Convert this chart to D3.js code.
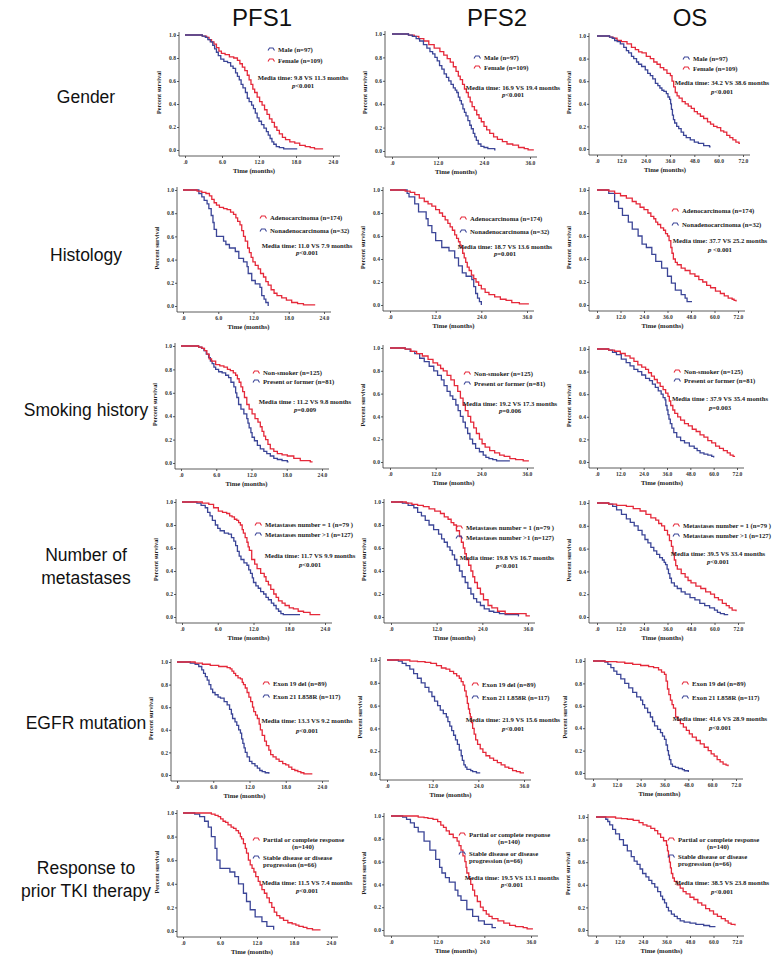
<!DOCTYPE html>
<html><head><meta charset="utf-8">
<script src="https://cdn.jsdelivr.net/npm/d3@7"></script>
<style>body{margin:0;background:#fff}svg{display:block}</style>
</head><body>
<svg id="c" width="776" height="959"></svg>
<script>
// ---------------- DATA ----------------
const colTitles = ["PFS1", "PFS2", "OS"];
const rowLabels = [["Gender"], ["Histology"], ["Smoking history"], ["Number of", "metastases"], ["EGFR mutation"], ["Response to", "prior TKI therapy"]];
const colMax = [24, 36, 72];
const xTicks1 = [0, 6, 12, 18, 24];
const xTicks2 = [0, 12, 24, 36];
const xTicks3 = [0, 12, 24, 36, 48, 60, 72];
const yTicks = [0, 0.2, 0.4, 0.6, 0.8, 1.0];

const legendRed = [["Female (n=109)"], ["Adenocarcinoma (n=174)"], ["Non-smoker  (n=125)"], ["Metastases  number = 1 (n=79 )"], ["Exon 19 del (n=89)"], ["Partial or complete response", "(n=140)"]];
const legendBlue = [["Male (n=97)"], ["Nonadenocarcinoma (n=32)"], ["Present or former  (n=81)"], ["Metastases  number >1 (n=127)"], ["Exon 21 L858R (n=117)"], ["Stable disease or disease", "progression  (n=66)"]];
const blueFirst = [true, false, false, false, false, false];

const medianTexts = [
  "Media time: 9.8 VS 11.3 months", "Media time: 16.9 VS 19.4  months", "Media time:  34.2 VS 38.6 months",
  "Media time: 11.0 VS 7.9 months", "Media time: 18.7 VS 13.6 months", "Media time: 37.7 VS 25.2 months",
  "Media time :  11.2 VS 9.8 months", "Media time: 19.2 VS 17.3 months", "Media time :  37.9 VS 35.4 months",
  "Media time: 11.7 VS 9.9 months", "Media time: 19.8 VS 16.7  months", "Media time:  39.5 VS 33.4 months",
  "Media time: 13.3 VS 9.2 months", "Media time:  21.9 VS 15.6 months", "Media time:  41.6 VS 28.9 months",
  "Media time: 11.5 VS 7.4 months", "Media time: 19.5 VS 13.1  months", "Media time: 38.5 VS 23.8  months"
];
const pTexts = [
  "<0.001", "<0.001", "<0.001",
  "<0.001", "=0.001", " <0.001",
  "=0.009", "=0.006", "=0.003",
  "<0.001", "<0.001", "<0.001",
  "<0.001", "<0.001", "<0.001",
  "<0.001", "<0.001", "<0.001"
];

// Survival curves [time (months), survival]
const genderPfs1Male = [[0,1],[2.8,0.99],[3.3,0.98],[3.7,0.96],[4.1,0.94],[4.5,0.91],[4.8,0.88],[5.1,0.85],[5.4,0.82],[5.8,0.79],[6.3,0.77],[6.9,0.76],[7.4,0.73],[7.8,0.71],[8.2,0.67],[8.5,0.64],[8.8,0.61],[9.1,0.57],[9.4,0.54],[9.8,0.5],[10.1,0.45],[10.4,0.42],[10.8,0.39],[11.1,0.36],[11.4,0.32],[11.7,0.28],[12,0.25],[12.4,0.22],[12.8,0.19],[13.2,0.16],[13.5,0.13],[13.8,0.1],[14.1,0.07],[14.4,0.05],[14.8,0.03],[15.3,0.02],[16,0.01],[18.2,0.01]];
const genderPfs1Female = [[0,1],[2.8,0.99],[3.5,0.98],[3.9,0.96],[4.3,0.94],[4.7,0.92],[5.1,0.89],[5.5,0.86],[5.9,0.84],[6.5,0.83],[7.2,0.81],[7.9,0.8],[8.5,0.78],[8.9,0.75],[9.3,0.72],[9.7,0.69],[10.1,0.65],[10.4,0.61],[10.7,0.57],[11,0.53],[11.3,0.5],[11.7,0.46],[12.1,0.42],[12.5,0.39],[12.9,0.35],[13.3,0.31],[13.7,0.27],[14.1,0.24],[14.5,0.2],[14.9,0.17],[15.3,0.14],[15.8,0.11],[16.3,0.09],[17,0.07],[17.8,0.06],[18.6,0.04],[19.5,0.03],[20.3,0.02],[21,0.01],[22.4,0.01]];
const genderPfs2Male = [[0,1],[4.3,0.99],[5.3,0.98],[6.3,0.96],[7.2,0.94],[8.2,0.91],[9.1,0.88],[9.9,0.85],[10.6,0.83],[11.2,0.8],[11.8,0.77],[12.4,0.73],[13,0.7],[13.6,0.66],[14.2,0.63],[14.8,0.6],[15.4,0.57],[16,0.54],[16.5,0.52],[16.9,0.5],[17.3,0.46],[17.7,0.43],[18.1,0.4],[18.5,0.36],[18.9,0.33],[19.3,0.3],[19.8,0.26],[20.3,0.22],[20.7,0.19],[21.2,0.15],[21.6,0.12],[22,0.09],[22.5,0.06],[23.2,0.04],[24,0.03],[25,0.02],[26.8,0.01],[27,0.01]];
const genderPfs2Female = [[0,1],[4.3,0.99],[5.8,0.98],[7,0.96],[8.3,0.94],[9.6,0.91],[11,0.88],[12.5,0.85],[13.5,0.82],[14.4,0.79],[15.2,0.76],[16,0.72],[16.7,0.68],[17.3,0.64],[17.8,0.61],[18.4,0.57],[18.9,0.53],[19.4,0.5],[19.9,0.46],[20.4,0.42],[20.9,0.38],[21.5,0.35],[22.1,0.31],[22.7,0.28],[23.3,0.25],[24,0.21],[24.7,0.18],[25.5,0.15],[26.5,0.12],[27.5,0.1],[28.8,0.08],[30,0.06],[31.5,0.05],[33,0.03],[34.5,0.02],[35.5,0.01],[37,0.01]];
const genderOsMale = [[0,1],[6.2,0.99],[7.5,0.98],[8.7,0.96],[10,0.95],[11.5,0.93],[13.2,0.9],[14.5,0.87],[15.6,0.85],[17,0.82],[18.1,0.8],[19.5,0.77],[20.5,0.75],[22,0.73],[23.8,0.7],[25,0.67],[26.3,0.65],[27.5,0.62],[28.8,0.58],[30,0.56],[31,0.54],[32,0.52],[33,0.51],[34.2,0.49],[35,0.46],[35.8,0.44],[36.3,0.4],[36.7,0.35],[37.2,0.3],[37.7,0.26],[38.3,0.23],[39.3,0.2],[40.3,0.18],[41.5,0.15],[42.7,0.12],[44,0.1],[46,0.08],[48,0.06],[50,0.05],[52.6,0.03],[55.5,0.02],[56,0.02]];
const genderOsFemale = [[0,1],[6.2,0.99],[8,0.98],[9.9,0.96],[12,0.95],[14.8,0.93],[17,0.9],[18.9,0.88],[20.5,0.86],[22.2,0.85],[24.3,0.82],[26.3,0.8],[28,0.77],[29.6,0.75],[31.2,0.72],[32.9,0.7],[34.5,0.67],[36.2,0.65],[37,0.6],[37.8,0.55],[38.6,0.5],[39.5,0.47],[40.5,0.45],[42,0.42],[43.5,0.4],[45,0.38],[46.5,0.36],[48,0.33],[49.5,0.31],[51,0.29],[52.6,0.27],[54.5,0.24],[56,0.22],[57.5,0.2],[59.2,0.19],[61,0.16],[62.5,0.15],[64,0.12],[65.5,0.1],[67,0.08],[68.5,0.06],[70,0.05],[70.5,0.05]];

const histPfs1Adeno = [[0,1],[2.4,0.99],[3.2,0.98],[3.9,0.97],[4.5,0.95],[4.9,0.92],[5.3,0.89],[5.7,0.87],[6.2,0.85],[6.9,0.84],[7.5,0.83],[8.1,0.81],[8.6,0.79],[9,0.76],[9.3,0.73],[9.7,0.7],[10,0.65],[10.3,0.6],[10.6,0.56],[11,0.5],[11.3,0.46],[11.6,0.42],[11.9,0.38],[12.3,0.35],[12.8,0.32],[13.2,0.28],[13.7,0.25],[14.1,0.21],[14.5,0.18],[15,0.14],[15.5,0.11],[16,0.09],[16.8,0.07],[17.6,0.05],[18.5,0.03],[19.5,0.02],[20.5,0.01],[22.5,0.01]];
const histPfs1Nonadeno = [[0,1],[2.7,0.97],[3.2,0.94],[3.6,0.91],[4.1,0.88],[4.4,0.84],[4.8,0.78],[5.1,0.72],[5.3,0.66],[5.7,0.6],[6.9,0.56],[7.3,0.53],[7.9,0.5],[8.9,0.47],[9.5,0.41],[10.3,0.38],[10.9,0.34],[11.1,0.28],[11.7,0.22],[12.3,0.19],[13.1,0.16],[13.4,0.09],[13.8,0.06],[14.1,0.03],[14.5,0.0]];
const histPfs2Adeno = [[0,1],[4,0.99],[5.3,0.98],[6.5,0.96],[7.7,0.93],[9,0.9],[10,0.88],[11,0.86],[12,0.83],[13,0.8],[13.8,0.77],[14.5,0.74],[15.2,0.71],[15.8,0.68],[16.4,0.65],[17,0.61],[17.5,0.58],[18,0.55],[18.4,0.52],[18.7,0.5],[19.1,0.45],[19.5,0.41],[19.9,0.37],[20.3,0.33],[20.8,0.3],[21.4,0.26],[22,0.23],[22.6,0.2],[23.3,0.17],[24,0.14],[25,0.11],[26,0.09],[27.5,0.07],[29,0.05],[30.5,0.04],[32,0.02],[34,0.01],[36.5,0.01]];
const histPfs2Nonadeno = [[0,1],[4.5,0.97],[5,0.94],[6.5,0.88],[7.5,0.81],[9.5,0.75],[10,0.69],[11,0.63],[12,0.56],[13.6,0.5],[15.5,0.47],[17,0.41],[18,0.34],[19,0.28],[20,0.25],[21.5,0.22],[22,0.16],[22.5,0.1],[23,0.06],[23.5,0.03],[24,0.0]];
const histOsAdeno = [[0,1],[6,0.99],[9,0.97],[12,0.95],[15,0.93],[18,0.9],[20,0.88],[22,0.85],[24,0.83],[26,0.8],[27.5,0.77],[29,0.75],[30,0.72],[31,0.7],[32.5,0.67],[34,0.65],[35,0.62],[36,0.6],[36.8,0.56],[37.7,0.5],[38.3,0.45],[39,0.4],[40,0.37],[41,0.35],[43,0.32],[45,0.3],[47.5,0.27],[50,0.25],[52,0.22],[54,0.2],[56,0.17],[58,0.15],[60.5,0.12],[63,0.1],[65,0.08],[67,0.06],[69,0.05],[70,0.04],[71,0.03]];
const histOsNonadeno = [[0,1],[6,0.97],[9,0.9],[11,0.84],[13,0.78],[16,0.72],[18,0.66],[21,0.6],[23,0.53],[25.2,0.5],[28,0.44],[30,0.38],[33,0.32],[36,0.25],[38,0.19],[40,0.13],[43,0.09],[45,0.06],[46,0.03],[48.5,0.03]];

const smokePfs1Non = [[0,1],[3,0.99],[3.6,0.98],[4,0.96],[4.4,0.93],[4.8,0.89],[5.2,0.87],[5.9,0.84],[6.6,0.83],[7.3,0.82],[7.9,0.8],[8.4,0.79],[8.9,0.77],[9.3,0.75],[9.6,0.72],[9.9,0.69],[10.2,0.65],[10.5,0.61],[10.8,0.56],[11.2,0.5],[11.6,0.46],[12.1,0.42],[12.6,0.38],[13.1,0.35],[13.5,0.31],[13.8,0.27],[14.1,0.23],[14.4,0.2],[14.8,0.16],[15.2,0.12],[15.8,0.1],[16.4,0.08],[17.2,0.07],[18.1,0.06],[19.2,0.04],[20.3,0.02],[22,0.01],[22.4,0.01]];
const smokePfs1Present = [[0,1],[3,0.99],[3.5,0.98],[3.9,0.96],[4.3,0.93],[4.7,0.9],[5,0.87],[5.3,0.85],[5.6,0.82],[5.9,0.8],[6.4,0.78],[7,0.77],[7.6,0.75],[8.1,0.73],[8.5,0.69],[9,0.65],[9.3,0.6],[9.5,0.56],[9.8,0.5],[10.2,0.46],[10.7,0.42],[11.2,0.38],[11.4,0.34],[11.6,0.3],[11.9,0.26],[12.1,0.22],[12.5,0.19],[13,0.15],[13.5,0.12],[14.1,0.1],[14.6,0.08],[15.2,0.06],[15.8,0.04],[16.4,0.03],[17.2,0.02],[18.1,0.01],[18.3,0.01]];
const smokePfs2Non = [[0,1],[4,0.99],[5.5,0.97],[7,0.95],[8.5,0.93],[10,0.9],[11.3,0.87],[12.5,0.85],[13.3,0.82],[14,0.8],[15,0.76],[16,0.72],[16.9,0.67],[17.8,0.62],[18.5,0.56],[19.2,0.5],[19.8,0.45],[20.5,0.4],[21.2,0.35],[22,0.3],[22.7,0.25],[23.5,0.2],[24.2,0.16],[25,0.13],[26.2,0.1],[27.5,0.08],[28.8,0.06],[30,0.05],[31.5,0.03],[33,0.02],[35,0.01],[36.5,0.01]];
const smokePfs2Present = [[0,1],[4,0.99],[5.3,0.97],[6.5,0.95],[7.8,0.91],[9,0.88],[10.3,0.84],[11.5,0.8],[12.5,0.76],[13.5,0.72],[14.2,0.67],[15,0.62],[15.8,0.58],[16.5,0.55],[17.3,0.5],[17.9,0.45],[18.5,0.4],[19.2,0.35],[19.8,0.3],[20.4,0.25],[21,0.2],[21.7,0.16],[22.5,0.12],[23.5,0.09],[24.5,0.06],[25.2,0.04],[26,0.03],[27,0.02],[28,0.01],[31.5,0.01]];
const smokeOsNon = [[0,1],[6,0.99],[9,0.98],[12,0.96],[14.5,0.94],[17,0.92],[19,0.89],[21,0.86],[23,0.84],[25,0.82],[26.5,0.79],[28,0.76],[29.5,0.73],[31,0.7],[32.5,0.67],[34,0.64],[35.3,0.61],[36.5,0.58],[37.2,0.54],[37.9,0.5],[39,0.46],[40,0.43],[41.5,0.4],[43,0.37],[45,0.34],[47,0.32],[49,0.29],[51,0.27],[53,0.24],[55,0.22],[57,0.19],[59,0.17],[61,0.14],[63,0.12],[65,0.1],[67,0.08],[68.5,0.06],[70,0.05],[71,0.05]];
const smokeOsPresent = [[0,1],[6,0.99],[8,0.97],[10,0.95],[12.5,0.91],[15,0.88],[17,0.85],[19,0.82],[21,0.8],[23,0.77],[25,0.74],[27,0.72],[28.5,0.69],[30,0.66],[31.5,0.63],[33,0.6],[34,0.57],[35,0.55],[35.4,0.5],[36,0.46],[36.5,0.42],[37,0.38],[37.7,0.34],[38.5,0.3],[39.5,0.26],[41,0.22],[43,0.19],[45,0.17],[47.5,0.14],[50,0.12],[51.5,0.1],[53,0.08],[55,0.07],[57,0.06],[59,0.05],[60,0.04]];

const metPfs1One = [[0,1],[3.4,0.99],[4.5,0.98],[5.3,0.95],[6.1,0.92],[6.8,0.91],[7.5,0.9],[8,0.88],[8.4,0.87],[8.8,0.85],[9.2,0.84],[9.5,0.82],[9.8,0.8],[10.1,0.76],[10.3,0.73],[10.6,0.69],[10.9,0.65],[11.1,0.61],[11.3,0.58],[11.7,0.5],[12.2,0.46],[12.6,0.42],[13.2,0.38],[13.8,0.35],[14.1,0.31],[14.5,0.28],[14.9,0.24],[15.4,0.2],[15.8,0.17],[16.2,0.14],[16.8,0.12],[17.3,0.1],[18,0.08],[18.7,0.07],[19.5,0.05],[20.4,0.04],[21.5,0.02],[23.2,0.02]];
const metPfs1More = [[0,1],[2.5,0.99],[3.2,0.97],[3.9,0.95],[4.3,0.91],[4.7,0.88],[5.1,0.84],[5.6,0.8],[6,0.77],[6.4,0.75],[7.1,0.73],[7.8,0.72],[8.3,0.69],[8.7,0.66],[9,0.62],[9.3,0.57],[9.6,0.53],[9.9,0.5],[10.4,0.47],[10.9,0.45],[11.2,0.41],[11.5,0.38],[11.8,0.34],[12,0.3],[12.4,0.27],[12.8,0.25],[13.2,0.22],[13.7,0.2],[14.1,0.17],[14.5,0.15],[15,0.12],[15.4,0.1],[15.8,0.07],[16.2,0.05],[16.6,0.03],[17,0.02],[19.8,0.02]];
const metPfs2One = [[0,1],[4,0.99],[5.5,0.98],[7,0.97],[8.5,0.96],[10,0.94],[11.5,0.92],[13,0.9],[14,0.87],[15,0.85],[15.8,0.82],[16.5,0.8],[17.2,0.75],[18,0.7],[18.5,0.65],[19,0.6],[19.4,0.55],[19.8,0.5],[20.4,0.45],[21,0.4],[21.5,0.35],[22,0.3],[22.7,0.25],[23.5,0.2],[24.3,0.15],[25.5,0.1],[26.5,0.08],[28,0.05],[30,0.03],[35,0.03],[35.5,0.01],[36.5,0.01]];
const metPfs2More = [[0,1],[3,0.99],[4.5,0.97],[6,0.95],[7,0.91],[8,0.88],[9,0.84],[10,0.8],[11.2,0.76],[12.5,0.72],[13.3,0.68],[14,0.65],[14.8,0.61],[15.5,0.58],[16.1,0.54],[16.7,0.5],[17.3,0.45],[18,0.4],[18.7,0.35],[19.5,0.3],[20.2,0.25],[21,0.2],[21.7,0.16],[22.5,0.13],[23.5,0.1],[24.5,0.07],[25.8,0.05],[27,0.04],[28.5,0.03],[30,0.02],[33.5,0.01],[33.6,0.01]];
const metOsOne = [[0,1],[6,0.99],[10,0.98],[15,0.97],[18.5,0.95],[22,0.93],[25,0.9],[27.5,0.87],[30,0.85],[31.5,0.82],[33,0.8],[34.5,0.76],[36,0.72],[37,0.67],[38,0.62],[38.8,0.56],[39.5,0.5],[40.2,0.45],[41,0.42],[43,0.38],[45,0.35],[46.5,0.32],[48,0.3],[50.5,0.27],[53,0.25],[55.5,0.22],[58,0.2],[60,0.17],[62,0.15],[64,0.12],[66,0.1],[67.5,0.08],[69,0.06],[71,0.05]];
const metOsMore = [[0,1],[6,0.99],[8,0.97],[10,0.94],[12.5,0.9],[15,0.86],[17,0.83],[19,0.8],[21,0.76],[23,0.72],[24.5,0.68],[26,0.65],[27.5,0.61],[29,0.58],[30.5,0.55],[32,0.52],[33.4,0.5],[34.3,0.48],[35,0.46],[35.8,0.42],[36.5,0.38],[37.2,0.34],[38,0.3],[39.5,0.27],[41,0.25],[43,0.22],[45,0.2],[47.5,0.17],[50,0.15],[52.5,0.12],[55,0.1],[57.5,0.08],[60,0.06],[61.5,0.04],[63,0.03],[65,0.02],[67,0.02]];

const egfrPfs1Del = [[0,1],[3,0.99],[4.2,0.98],[5.5,0.97],[6.9,0.96],[8.3,0.95],[8.8,0.94],[9.1,0.92],[9.4,0.9],[9.7,0.88],[10.1,0.86],[10.5,0.85],[10.8,0.82],[11,0.8],[11.3,0.77],[11.6,0.73],[11.9,0.69],[12.2,0.65],[12.5,0.6],[12.7,0.56],[13,0.53],[13.3,0.5],[13.6,0.45],[13.8,0.4],[14.1,0.35],[14.5,0.3],[14.8,0.26],[15.2,0.22],[15.5,0.18],[15.9,0.16],[16.4,0.14],[16.9,0.12],[17.5,0.1],[18,0.09],[18.5,0.07],[19,0.05],[19.5,0.04],[20,0.03],[20.5,0.02],[21,0.01],[22.4,0.01]];
const egfrPfs1L858r = [[0,1],[2.2,0.99],[3,0.98],[3.6,0.96],[4.1,0.93],[4.4,0.9],[4.7,0.87],[5,0.84],[5.3,0.8],[5.6,0.76],[5.9,0.73],[6.3,0.71],[6.8,0.69],[7.2,0.68],[7.8,0.65],[8.3,0.62],[8.7,0.58],[9,0.54],[9.2,0.5],[9.6,0.47],[9.9,0.44],[10.2,0.4],[10.5,0.37],[10.7,0.32],[10.9,0.28],[11.1,0.24],[11.3,0.2],[11.6,0.16],[12,0.12],[12.4,0.1],[12.9,0.08],[13.3,0.06],[13.7,0.04],[14.1,0.03],[14.6,0.02],[15.2,0.01]];
const egfrPfs2Del = [[0,1],[6,0.99],[8,0.985],[10,0.98],[11.5,0.97],[13,0.95],[14.3,0.93],[15.5,0.92],[16.5,0.9],[17.5,0.88],[18.3,0.86],[19,0.84],[19.5,0.81],[20,0.78],[20.4,0.73],[20.8,0.68],[21.1,0.62],[21.4,0.57],[21.7,0.53],[21.9,0.5],[22.2,0.45],[22.5,0.4],[22.9,0.35],[23.3,0.3],[23.8,0.26],[24.5,0.22],[25.2,0.19],[26,0.16],[27,0.14],[28,0.12],[29,0.1],[30,0.08],[31,0.06],[32,0.05],[33,0.03],[34,0.02],[35,0.01],[36,0.01]];
const egfrPfs2L858r = [[0,1],[3,0.99],[4,0.97],[5,0.95],[6,0.92],[7,0.88],[8,0.84],[9,0.8],[10,0.76],[11,0.72],[11.8,0.68],[12.5,0.64],[13.3,0.6],[14,0.56],[14.8,0.53],[15.6,0.5],[16,0.46],[16.5,0.42],[17,0.38],[17.5,0.34],[18,0.3],[18.5,0.26],[19,0.21],[19.5,0.16],[19.8,0.12],[20.2,0.08],[20.6,0.06],[21,0.04],[22,0.03],[22.5,0.02],[23.5,0.01],[24.5,0.01]];
const egfrOsDel = [[0,1],[6,0.995],[12,0.99],[16,0.98],[20,0.97],[24,0.96],[28,0.95],[30.5,0.94],[33,0.92],[34.5,0.9],[36,0.88],[36.8,0.82],[37.5,0.75],[38.2,0.7],[39,0.65],[39.8,0.61],[40.5,0.58],[41.6,0.5],[42.8,0.47],[44,0.44],[45.5,0.41],[47,0.38],[48.5,0.35],[50,0.32],[52,0.29],[54,0.26],[56,0.23],[58,0.2],[59.5,0.17],[61,0.15],[62.5,0.12],[64,0.1],[65.5,0.08],[67,0.07],[68,0.06]];
const egfrOsL858r = [[0,1],[6,0.99],[7.5,0.97],[9,0.94],[10.5,0.91],[12,0.88],[14,0.84],[16,0.8],[18,0.76],[20,0.72],[22,0.68],[24,0.65],[25,0.61],[26,0.58],[27.5,0.54],[28.9,0.5],[30,0.46],[31,0.42],[32.5,0.39],[34,0.36],[35,0.33],[36,0.3],[36.8,0.25],[37.5,0.2],[38,0.16],[38.5,0.12],[39.2,0.08],[40,0.06],[41.5,0.05],[43,0.04],[45,0.03],[46,0.02],[48,0.01]];

const respPfs1Pr = [[0,1],[4.6,0.99],[5.2,0.98],[5.7,0.97],[6.1,0.95],[6.5,0.93],[6.9,0.92],[7.3,0.9],[7.8,0.88],[8.2,0.87],[8.6,0.85],[9,0.83],[9.3,0.8],[9.5,0.78],[9.8,0.74],[10.1,0.7],[10.3,0.66],[10.6,0.6],[10.9,0.56],[11.2,0.53],[11.5,0.5],[11.8,0.46],[12.2,0.42],[12.5,0.39],[12.8,0.35],[13.2,0.32],[13.6,0.28],[14,0.24],[14.4,0.2],[14.8,0.16],[15.2,0.13],[15.7,0.11],[16.3,0.09],[17,0.07],[17.7,0.06],[18.3,0.05],[18.8,0.04],[19.5,0.03],[20.1,0.02],[21,0.01],[22.3,0.01]];
const respPfs1Sd = [[0,1],[1.9,0.99],[2.7,0.97],[3.5,0.93],[4.1,0.88],[4.6,0.8],[5.2,0.7],[5.5,0.6],[6,0.53],[7.6,0.5],[8.4,0.46],[9,0.4],[9.8,0.32],[10.3,0.25],[10.9,0.18],[11.7,0.12],[12.8,0.08],[13.6,0.04],[14.7,0.01]];
const respPfs2Pr = [[0,1],[7,0.99],[8.5,0.985],[9.5,0.98],[10.8,0.97],[12,0.95],[12.8,0.92],[13.5,0.9],[14.2,0.87],[15,0.84],[16,0.81],[17,0.78],[17.5,0.74],[18,0.7],[18.5,0.65],[19,0.6],[19.3,0.55],[19.5,0.5],[20,0.45],[20.5,0.4],[21,0.35],[21.5,0.3],[22.2,0.25],[23,0.2],[23.7,0.17],[24.5,0.14],[25.2,0.12],[26,0.1],[27.5,0.08],[29,0.06],[30.5,0.04],[32,0.03],[34,0.02],[35,0.01],[36.5,0.01]];
const respPfs2Sd = [[0,1],[3,0.99],[4,0.97],[5,0.94],[6,0.9],[7,0.86],[8.5,0.78],[10,0.7],[11.5,0.62],[12.5,0.55],[13.1,0.5],[14,0.46],[15,0.42],[16.5,0.35],[17.2,0.3],[18,0.26],[19.5,0.18],[21,0.12],[22.5,0.08],[24,0.05],[26,0.02],[27,0.02]];
const respOsPr = [[0,1],[10,0.99],[13,0.985],[16,0.98],[19,0.97],[22,0.95],[24,0.93],[26,0.92],[28,0.9],[30,0.88],[31.5,0.85],[33,0.82],[34.5,0.79],[36,0.75],[36.5,0.7],[37,0.65],[37.5,0.6],[38,0.55],[38.5,0.5],[39.2,0.46],[40,0.43],[41.5,0.4],[43,0.37],[44.5,0.34],[46,0.32],[48,0.29],[50,0.27],[52,0.24],[54,0.22],[56,0.19],[58,0.17],[60,0.14],[62,0.12],[64,0.1],[66,0.08],[67.5,0.06],[69,0.05],[71,0.04]];
const respOsSd = [[0,1],[5,0.98],[6,0.96],[7,0.93],[8.5,0.89],[10,0.85],[12,0.8],[14,0.75],[16,0.7],[18,0.65],[19.5,0.61],[21,0.58],[22.5,0.54],[23.8,0.5],[25.5,0.47],[27,0.44],[28.5,0.41],[30,0.38],[31.5,0.34],[33,0.3],[34,0.27],[35,0.24],[36,0.2],[37,0.17],[38.5,0.14],[40,0.12],[41.5,0.1],[43,0.08],[45,0.07],[48,0.06],[51,0.05],[55,0.04],[58,0.03],[61,0.03]];

// curves per panel (row-major): [red, blue]
const panelCurves = [
  [genderPfs1Female, genderPfs1Male], [genderPfs2Female, genderPfs2Male], [genderOsFemale, genderOsMale],
  [histPfs1Adeno, histPfs1Nonadeno], [histPfs2Adeno, histPfs2Nonadeno], [histOsAdeno, histOsNonadeno],
  [smokePfs1Non, smokePfs1Present], [smokePfs2Non, smokePfs2Present], [smokeOsNon, smokeOsPresent],
  [metPfs1One, metPfs1More], [metPfs2One, metPfs2More], [metOsOne, metOsMore],
  [egfrPfs1Del, egfrPfs1L858r], [egfrPfs2Del, egfrPfs2L858r], [egfrOsDel, egfrOsL858r],
  [respPfs1Pr, respPfs1Sd], [respPfs2Pr, respPfs2Sd], [respOsPr, respOsSd]
];

// ---------------- LAYOUT ----------------
// [x at t=0, x at t=max, y at 1.0, y at 0.0]
const frames = [
  [185,333,35,150],[392,530,34,151],[597,743,36,149],
  [183,324,190,306],[390,527,190,305],[597,738,190,305],
  [181,322,346,463],[390,527,348,462],[597,737,349,462],
  [182,325,502,617],[391,528,502,617],[597,738,503,617],
  [177,322,662,775],[387,524,660,774],[593,736,661,773],
  [183,331,813,931],[391,531,816,930],[596,737,817,930]
];
// [symbol x, line1 y, line2 y, median centre x, median y, p y]
const legendPos = [
  [268,49,60,303,77,85],[474,57,67,513,87,94],[683,58,68,722,82,91],
  [260,217,230,307,245,252],[460,218,231,505,246,253],[672,210,224,720,240,249],
  [253,372,381,305,401,409],[464,373,383,510,403,410],[674,371,380,720,398,407],
  [255,524,534,310,555,564],[456,527,537,507,557,565],[673,525,535,718,553,561],
  [263,683,696,307,720,730],[472,684,697,513,719,728],[682,683,697,720,718,727],
  [253,839,857,307,882,890],[459,834,853,512,877,884],[668,839,856,722,882,891]
];
const colTitleX = [262, 497, 690];
const rowLabelY = [97, 255, 410, 566, 723, 879];
const RED = "#e5293a", BLUE = "#3b4597";
const SERIF = "'Liberation Serif','Times New Roman',serif";
const FS = 6.7;

const svg = d3.select("#c");
svg.append("rect").attr("width", 776).attr("height", 959).attr("fill", "#fff");

svg.selectAll("text.ct").data(colTitles).join("text").attr("class", "ct")
  .attr("x", (d, i) => colTitleX[i]).attr("y", 26).attr("text-anchor", "middle")
  .attr("font-family", "Liberation Sans, Arial, sans-serif").attr("font-size", 24).attr("fill", "#111").text(d => d);

rowLabels.forEach((lines, r) => {
  const n = lines.length;
  lines.forEach((ln, k) => {
    svg.append("text").attr("x", 86).attr("y", rowLabelY[r] + (k - (n - 1) / 2) * 23)
      .attr("text-anchor", "middle").attr("dominant-baseline", "central")
      .attr("font-family", "Liberation Sans, Arial, sans-serif").attr("font-size", 17.5).attr("fill", "#111").text(ln);
  });
});

const xTickSets = [xTicks1, xTicks2, xTicks3];
const axOff = [6, 7, 8];

frames.forEach((f, idx) => {
  const r = Math.floor(idx / 3), c = idx % 3;
  const [x0, x1, yt, yb] = f;
  const x = d3.scaleLinear().domain([0, colMax[c]]).range([x0, x1]);
  const y = d3.scaleLinear().domain([0, 1]).range([yb, yt]);
  const g = svg.append("g");
  const axX = x0 - axOff[c], axY = yb + 6;

  const ya = g.append("g").attr("transform", `translate(${axX},0)`)
    .call(d3.axisLeft(y).tickValues(yTicks).tickSize(2).tickPadding(1).tickFormat(d3.format(".1f")));
  ya.select(".domain").attr("d", `M0,${yt - 3}V${axY}`);
  const xa = g.append("g").attr("transform", `translate(0,${axY})`)
    .call(d3.axisBottom(x).tickValues(xTickSets[c]).tickSize(2).tickPadding(2)
      .tickFormat(d => d === 0 ? ".0" : d3.format(".1f")(d)));
  xa.select(".domain").attr("d", `M${axX},0H${x1 + 7}`);
  [ya, xa].forEach(a => {
    a.selectAll(".domain,line").attr("stroke", "#333").attr("stroke-width", 0.8);
    a.selectAll("text").attr("font-family", SERIF).attr("font-weight", "bold")
      .attr("font-size", 5.6).attr("fill", "#333");
  });

  g.append("text").attr("x", (x0 + x1) / 2 - 5).attr("y", yb + 23).attr("text-anchor", "middle")
    .attr("font-family", SERIF).attr("font-weight", "bold").attr("font-size", 6.7).attr("fill", "#222").text("Time (months)");
  g.append("text").attr("transform", `translate(${axX - 21},${(yt + yb) / 2}) rotate(-90)`)
    .attr("text-anchor", "middle").attr("dominant-baseline", "central")
    .attr("font-family", SERIF).attr("font-weight", "bold").attr("font-size", 6.2).attr("fill", "#222").text("Percent survival");

  const line = d3.line().x(d => x(d[0])).y(d => y(d[1])).curve(d3.curveStepAfter);
  const [red, blue] = panelCurves[idx];
  const order = blueFirst[r] ? [[red, RED], [blue, BLUE]] : [[blue, BLUE], [red, RED]];
  order.forEach(([data, col]) => {
    g.append("path").attr("d", line(data)).attr("fill", "none").attr("stroke", col).attr("stroke-width", 1.3);
  });

  const [sx, ly1, ly2, mcx, my, py] = legendPos[idx];
  const entries = blueFirst[r] ? [[legendBlue[r], BLUE, ly1], [legendRed[r], RED, ly2]] : [[legendRed[r], RED, ly1], [legendBlue[r], BLUE, ly2]];
  entries.forEach(([lines, col, yy]) => {
    g.append("path").attr("d", `M${sx},${yy + 1.5}L${sx + 1.5},${yy - 1}H${sx + 5}L${sx + 6.5},${yy + 1.5}`)
      .attr("fill", "none").attr("stroke", col).attr("stroke-width", 1.1);
    lines.forEach((ln, k) => {
      const t = g.append("text").attr("y", yy + k * 7.8).attr("dominant-baseline", "central")
        .attr("font-family", SERIF).attr("font-weight", "bold").attr("font-size", FS).attr("fill", "#222").text(ln);
      if (k === 1 && ln.startsWith("(")) t.attr("x", sx + 50).attr("text-anchor", "middle");
      else t.attr("x", sx + 10);
    });
  });
  g.append("text").attr("x", mcx).attr("y", my).attr("text-anchor", "middle").attr("dominant-baseline", "central")
    .attr("font-family", SERIF).attr("font-weight", "bold").attr("font-size", FS).attr("fill", "#222").text(medianTexts[idx]);
  const pt = g.append("text").attr("x", mcx).attr("y", py).attr("text-anchor", "middle").attr("dominant-baseline", "central")
    .attr("font-family", SERIF).attr("font-weight", "bold").attr("font-size", FS).attr("fill", "#222");
  pt.append("tspan").attr("font-style", "italic").text("p");
  pt.append("tspan").text(pTexts[idx]);
});
</script>
</body></html>
